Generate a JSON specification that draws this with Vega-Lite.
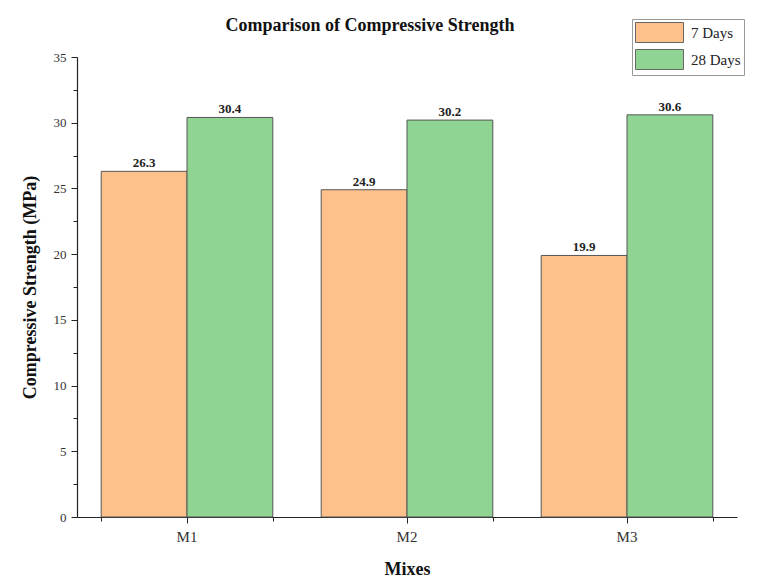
{
  "$schema": "https://vega.github.io/schema/vega-lite/v6.json",
  "width": 660,
  "height": 460,
  "autosize": {"type": "none"},
  "padding": {"left": 77, "top": 57, "right": 30, "bottom": 71},
  "background": "white",
  "title": {
    "text": "Comparison of Compressive Strength",
    "font": "Liberation Serif",
    "fontSize": 18,
    "fontWeight": "bold",
    "color": "#111",
    "anchor": "middle",
    "dx": -37,
    "offset": -16
  },
  "config": {
    "view": {"stroke": null},
    "axis": {"grid": false, "labelFont": "Liberation Serif", "titleFont": "Liberation Serif", "domainColor": "#222", "tickColor": "#222", "labelColor": "#333", "titleColor": "#111"}
  },
  "data": {
    "values": [
      {"mix": "M1", "period": "7 Days", "value": 26.3},
      {"mix": "M1", "period": "28 Days", "value": 30.4},
      {"mix": "M2", "period": "7 Days", "value": 24.9},
      {"mix": "M2", "period": "28 Days", "value": 30.2},
      {"mix": "M3", "period": "7 Days", "value": 19.9},
      {"mix": "M3", "period": "28 Days", "value": 30.6}
    ]
  },
  "layer": [
    {
      "mark": {"type": "bar", "stroke": "#555", "strokeWidth": 1},
      "encoding": {
        "x": {
          "field": "mix", "type": "nominal", "sort": ["M1", "M2", "M3"],
          "scale": {"paddingInner": 0.22, "paddingOuter": 0.11},
          "axis": {"title": "Mixes", "labelAngle": 0, "labelFontSize": 15, "titleFontSize": 18, "titleFontWeight": "bold", "tickSize": 6, "labelPadding": 6, "titlePadding": 16, "domainWidth": 1.2}
        },
        "xOffset": {"field": "period", "type": "nominal", "sort": ["7 Days", "28 Days"]},
        "y": {
          "field": "value", "type": "quantitative",
          "scale": {"domain": [0, 35], "nice": false},
          "axis": {"title": "Compressive Strength (MPa)", "values": [0, 5, 10, 15, 20, 25, 30, 35], "labelFontSize": 13, "titleFontSize": 18, "titleFontWeight": "bold", "tickSize": 6, "labelPadding": 5, "titlePadding": 14, "domainWidth": 1.2}
        },
        "color": {
          "field": "period", "type": "nominal", "sort": ["7 Days", "28 Days"],
          "scale": {"domain": ["7 Days", "28 Days"], "range": ["#FFC18C", "#90D493"]},
          "legend": {
            "title": null,
            "orient": "none",
            "legendX": 555,
            "legendY": -38,
            "symbolType": "M-2.4,-1H2.4V1H-2.4Z",
            "symbolSize": 400,
            "symbolOffset": 14,
            "symbolStrokeColor": "#666",
            "symbolStrokeWidth": 1,
            "labelFont": "Liberation Serif",
            "labelFontSize": 15,
            "labelColor": "#222",
            "rowPadding": 2,
            "labelOffset": 21,
            "padding": 3,
            "strokeColor": "#999",
            "fillColor": "white"
          }
        }
      }
    },
    {
      "mark": {"type": "text", "dy": -8, "font": "Liberation Serif", "fontWeight": "bold", "fontSize": 13, "color": "#222"},
      "encoding": {
        "x": {
          "field": "mix", "type": "nominal", "sort": ["M1", "M2", "M3"],
          "axis": {"title": null, "labels": false, "domain": false, "tickBand": "extent", "tickSize": 4, "orient": "bottom"}
        },
        "xOffset": {"field": "period", "type": "nominal", "sort": ["7 Days", "28 Days"]},
        "y": {
          "field": "value", "type": "quantitative",
          "axis": {"title": null, "labels": false, "domain": false, "values": [2.5, 7.5, 12.5, 17.5, 22.5, 27.5, 32.5], "tickSize": 4, "orient": "left"}
        },
        "text": {"field": "value", "type": "quantitative", "format": ".1f"}
      }
    }
  ],
  "resolve": {"axis": {"x": "independent", "y": "independent"}}
}
